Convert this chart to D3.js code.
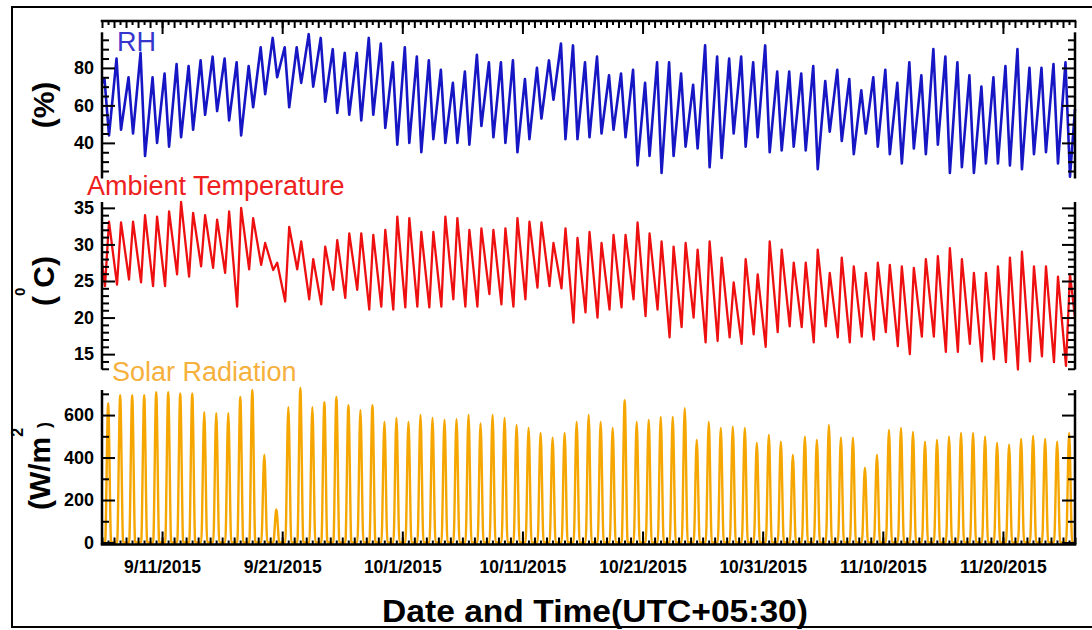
<!DOCTYPE html>
<html>
<head>
<meta charset="utf-8">
<script src="https://cdn.jsdelivr.net/npm/d3@7"></script>
<style>
  html, body { margin: 0; padding: 0; background: #fff; }
  svg { display: block; font-family: "Liberation Sans", Arial, sans-serif; }
</style>
</head>
<body>
<svg id="chart" width="1092" height="630"></svg>
<script>
// ---- Daily weather record, 6 Sep 2015 to 25 Nov 2015 (UTC+05:30) ----
const firstDay = "2015-09-06";
const lastDay = "2015-11-26";

// Relative humidity (%): early-morning high and afternoon low for each day
const rhMorningMax = [74,85,75,88,75,77,82,81,84,86,85,83,81,91,96,91,91,98,96,90,
  88,88,96,93,83,91,86,84,79,72,78,87,83,83,84,74,80,84,93,92,
  83,86,76,77,79,72,83,83,77,71,92,86,85,86,83,92,78,78,77,81,
  73,79,74,68,75,79,72,83,76,90,86,83,76,70,75,81,90,80,80,82,83];
const rhAfternoonMin = [44,47,45,33,40,38,43,47,55,57,52,44,59,66,75,59,72,70,62,56,
  55,52,55,48,39,40,35,42,40,40,39,49,43,40,35,42,53,63,42,42,
  43,45,47,43,28,33,24,33,38,37,27,32,45,38,43,35,36,38,36,26,
  46,41,34,45,38,34,29,37,34,39,24,27,24,29,29,28,26,34,35,29,22];
const rhEnds = [72, 58];

// Ambient temperature (°C): early-morning low and afternoon high for each day
const tempMorningMin = [24.3,24.5,25.2,24.8,24.3,24.3,25.9,25.6,27.0,26.8,26.1,21.5,26.6,27.2,26.5,22.2,26.6,22.5,21.8,23.8,
  22.7,23.8,21.1,21.5,21.1,21.4,21.5,21.4,21.5,22.5,21.5,21.5,23.2,21.8,21.5,22.5,24.1,24.3,24.0,19.3,
  20.7,20.0,21.1,21.4,22.5,20.2,21.1,17.3,18.7,20.0,16.6,16.8,17.3,16.4,17.7,16.0,18.0,18.8,18.7,16.6,
  18.8,17.3,16.6,17.4,17.0,18.0,16.1,15.0,17.4,17.4,15.3,15.3,16.4,14.0,14.3,13.9,12.9,14.0,14.7,13.9,13.4];
const tempAfternoonMax = [33.1,33.0,33.1,34.0,33.8,34.5,35.8,34.3,34.0,33.4,34.5,35.0,33.6,30.2,27.5,32.4,30.4,28.0,29.7,30.6,
  31.5,31.5,31.3,32.0,33.8,33.6,31.7,31.7,33.8,33.6,32.0,32.2,32.0,32.2,33.6,33.1,33.0,30.2,32.2,30.9,
  31.7,30.2,31.3,31.3,33.0,31.5,30.4,29.7,30.2,29.3,30.4,28.2,24.8,28.0,25.9,30.4,29.3,27.5,27.5,29.3,
  26.1,28.2,27.0,26.1,27.5,27.2,27.0,26.8,28.0,28.4,29.5,28.0,26.1,26.1,27.0,28.2,29.0,27.0,27.0,25.6,25.9];
const tempEnds = [27.5, 20.0];

// Solar radiation (W/m²): midday peak for each day, zero overnight
const solarPeak = [656,693,693,693,708,708,702,702,614,609,609,685,718,413,156,637,728,637,661,685,
  647,623,647,567,586,567,600,586,577,580,600,561,600,586,553,539,516,493,516,567,
  600,567,539,670,567,577,591,591,632,483,567,539,545,539,469,506,475,413,498,483,
  553,493,493,352,413,530,539,520,475,483,498,516,516,498,469,460,488,502,488,475,516];

// Hour of day (local) of the daily extremes
const HOURS = { rhHigh: 5, rhLow: 14, tLow: 6, tHigh: 14, sunrise: 6.2, noon: 12.3, sunset: 18.3 };

// Date axis labels
const dateTicks = ["2015-09-11","2015-09-21","2015-10-01","2015-10-11","2015-10-21","2015-10-31","2015-11-10","2015-11-20"];
const dateTickLabels = ["9/11/2015","9/21/2015","10/1/2015","10/11/2015","10/21/2015","10/31/2015","11/10/2015","11/20/2015"];

// Value axis ticks
const rhTicks = [40, 60, 80];
const tempTicks = [15, 20, 25, 30, 35];
const solarTicks = [0, 200, 400, 600];

// ---- Layout ----
const X0 = 102, X1 = 1075;
const TOP_AXIS_Y = 21, BOTTOM_AXIS_Y = 544.5;
const panels = {
  rh:    { top: 32.3, bottom: 178.5, domain: [21, 99],     minorStep: 5 },
  temp:  { top: 202,  bottom: 369.5, domain: [12.9, 35.8], minorStep: 1 },
  solar: { top: 390,  bottom: 542.5, domain: [0, 718],     minorStep: 100 }
};
const COLORS = { rh: "#1616c4", rhTitle: "#3636cc", temp: "#ee1010", tempTitle: "#ee2020", solar: "#f5a600", solarTitle: "#f6b03c" };

const svg = d3.select("#chart");

// outer frame
svg.append("rect").attr("x", 12).attr("y", 7).attr("width", 1100).attr("height", 620)
  .attr("fill", "none").attr("stroke", "#000").attr("stroke-width", 2);

const parse = d3.utcParse("%Y-%m-%d");
const t0 = parse(firstDay), t1 = parse(lastDay);
const days = d3.utcDays(t0, t1);
const at = (day, h) => new Date(+day + h * 3600e3);

const x = d3.scaleUtc().domain([t0, t1]).range([X0, X1]);
const yRH = d3.scaleLinear().domain(panels.rh.domain).range([panels.rh.bottom, panels.rh.top]);
const yT = d3.scaleLinear().domain(panels.temp.domain).range([panels.temp.bottom, panels.temp.top]);
const yS = d3.scaleLinear().domain(panels.solar.domain).range([panels.solar.bottom, panels.solar.top]);

// ---- series ----
const rhSeries = [{ t: t0, v: rhEnds[0] }]
  .concat(days.flatMap((d, i) => [
    { t: at(d, HOURS.rhHigh), v: rhMorningMax[i] },
    { t: at(d, HOURS.rhLow), v: rhAfternoonMin[i] }]))
  .concat([{ t: t1, v: rhEnds[1] }]);

const tempSeries = [{ t: t0, v: tempEnds[0] }]
  .concat(days.flatMap((d, i) => [
    { t: at(d, HOURS.tLow), v: tempMorningMin[i] },
    { t: at(d, HOURS.tHigh), v: tempAfternoonMax[i] }]))
  .concat([{ t: t1, v: tempEnds[1] }]);

const solarSeries = [{ t: t0, v: 0 }]
  .concat(days.flatMap((d, i) => [
    { t: at(d, HOURS.sunrise), v: 0 },
    { t: at(d, HOURS.noon), v: solarPeak[i] },
    { t: at(d, HOURS.sunset), v: 0 }]))
  .concat([{ t: t1, v: 0 }]);

function drawLine(series, yScale, color, width, curve) {
  svg.append("path")
    .datum(series)
    .attr("fill", "none")
    .attr("stroke", color)
    .attr("stroke-width", width)
    .attr("stroke-linejoin", "round")
    .attr("d", d3.line().curve(curve).x(d => x(d.t)).y(d => yScale(d.v)));
}
drawLine(solarSeries, yS, COLORS.solar, 2.4, d3.curveMonotoneX);
drawLine(tempSeries, yT, COLORS.temp, 2.3, d3.curveLinear);
drawLine(rhSeries, yRH, COLORS.rh, 2.6, d3.curveLinear);

// ---- value axes (ticks point into the plot on both sides) ----
function styleAxis(g) {
  g.select(".domain").remove();
  g.selectAll(".tick line").attr("stroke", "#000").attr("stroke-width", 2);
  g.selectAll(".tick text").attr("fill", "#000").attr("font-size", 18).attr("font-weight", "bold")
    .attr("font-family", '"Liberation Sans", Arial, sans-serif');
}
function valueAxes(p, scale, majors) {
  const [lo, hi] = p.domain;
  const minors = d3.range(Math.ceil(lo / p.minorStep) * p.minorStep, hi + 1e-9, p.minorStep)
    .filter(v => !majors.includes(v));
  // left
  svg.append("g").attr("transform", `translate(${X0},0)`)
    .call(d3.axisLeft(scale).tickValues(minors).tickSize(-7).tickFormat(""))
    .call(styleAxis);
  svg.append("g").attr("transform", `translate(${X0},0)`)
    .call(d3.axisLeft(scale).tickValues(majors).tickSize(-13).tickPadding(8).tickFormat(d3.format("d")))
    .call(styleAxis);
  // right
  svg.append("g").attr("transform", `translate(${X1},0)`)
    .call(d3.axisRight(scale).tickValues(minors).tickSize(-7).tickFormat(""))
    .call(styleAxis);
  svg.append("g").attr("transform", `translate(${X1},0)`)
    .call(d3.axisRight(scale).tickValues(majors).tickSize(-13).tickFormat(""))
    .call(styleAxis);
  // spines
  [X0, X1].forEach(xx => {
    svg.append("line").attr("x1", xx).attr("x2", xx)
      .attr("y1", p.top).attr("y2", p.bottom)
      .attr("stroke", "#000").attr("stroke-width", 2.5);
  });
}
valueAxes(panels.rh, yRH, rhTicks);
valueAxes(panels.temp, yT, tempTicks);
valueAxes({ ...panels.solar, bottom: BOTTOM_AXIS_Y }, yS, solarTicks);

// ---- date axes (top mirror and bottom) ----
const halfDays = d3.utcHour.every(12).range(t0, t1).filter(d => d.getUTCHours() === 12);
const wholeDays = d3.utcDays(t0, d3.utcDay.offset(t1, 1));
const majorDates = dateTicks.map(parse);

function dateAxis(y, axisFn, withLabels) {
  svg.append("g").attr("transform", `translate(0,${y})`)
    .call(axisFn(x).tickValues(halfDays).tickSize(-4).tickFormat("")).call(styleAxis);
  svg.append("g").attr("transform", `translate(0,${y})`)
    .call(axisFn(x).tickValues(wholeDays).tickSize(-7).tickFormat("")).call(styleAxis);
  const g = svg.append("g").attr("transform", `translate(0,${y})`)
    .call(axisFn(x).tickValues(majorDates).tickSize(-13).tickPadding(16)
      .tickFormat(withLabels ? (d, i) => dateTickLabels[i] : ""))
    .call(styleAxis);
  g.selectAll(".tick text").attr("font-size", 17.5);
  svg.append("line").attr("x1", X0 - 1.25).attr("x2", X1 + 1.25).attr("y1", y).attr("y2", y)
    .attr("stroke", "#000").attr("stroke-width", 2.5);
}
dateAxis(TOP_AXIS_Y, d3.axisTop, false);
dateAxis(BOTTOM_AXIS_Y, d3.axisBottom, true);

// ---- panel titles ----
function panelTitle(txt, xx, yy, color) {
  svg.append("text").attr("x", xx).attr("y", yy).attr("fill", color)
    .attr("font-size", 27).text(txt);
}
panelTitle("RH", 117, 51, COLORS.rhTitle);
panelTitle("Ambient Temperature", 87, 195, COLORS.tempTitle);
panelTitle("Solar Radiation", 112, 381, COLORS.solarTitle);

// ---- unit labels (rotated) ----
function unitLabel(cx, cy) {
  return svg.append("text")
    .attr("transform", `translate(${cx},${cy}) rotate(-90)`)
    .attr("text-anchor", "middle")
    .attr("font-weight", "bold").attr("font-size", 30).attr("fill", "#000");
}
unitLabel(54, 105).text("(%)");

const tl = unitLabel(54, 281);
tl.append("tspan").text("(");
tl.append("tspan").attr("font-size", 15).attr("dy", -29).text("0");
tl.append("tspan").attr("dy", 29).text("C)");

const sl = unitLabel(50, 466);
sl.append("tspan").text("(W/m");
sl.append("tspan").attr("font-size", 16).attr("dy", -27).text("2");
sl.append("tspan").attr("font-size", 18).attr("dy", 27).text(")");

// ---- date axis title ----
svg.append("text")
  .attr("x", 382).attr("y", 622)
  .attr("font-weight", "bold").attr("font-size", 31)
  .attr("textLength", 426).attr("lengthAdjust", "spacingAndGlyphs")
  .attr("fill", "#000")
  .text("Date and Time(UTC+05:30)");
</script>
</body>
</html>
